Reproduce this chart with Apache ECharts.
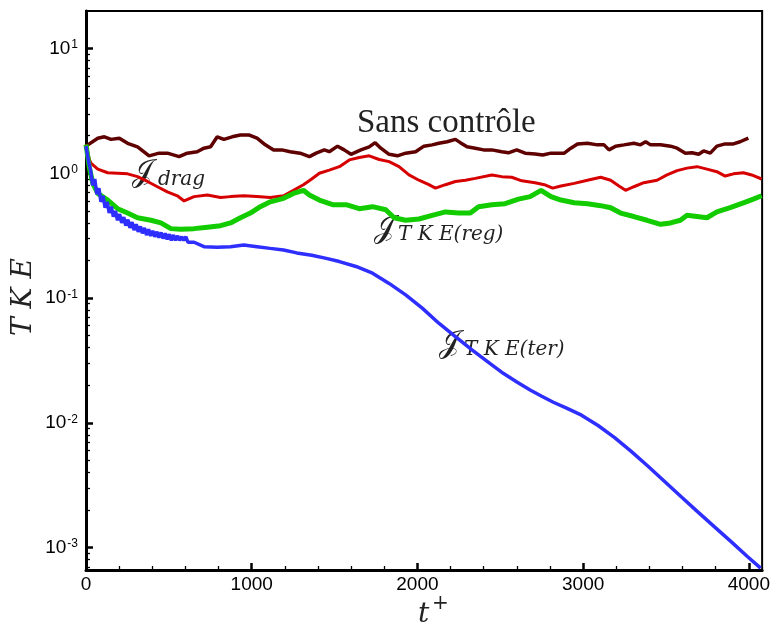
<!DOCTYPE html>
<html><head><meta charset="utf-8">
<script src="https://cdn.jsdelivr.net/npm/echarts@6/dist/echarts.min.js"></script>
<style>html,body{margin:0;padding:0;background:#fff}#c{width:773px;height:627px}</style>
</head><body><div id="c"></div>
<script>
// ---- data ----
const sansT = [0, 10, 71, 111, 151, 201, 251, 311, 381, 441, 491, 562, 611, 671, 712, 752, 792, 832, 882, 932, 982, 1032, 1082, 1132, 1182, 1232, 1292, 1348, 1389, 1438, 1468, 1518, 1558, 1599, 1659, 1709, 1745, 1779, 1829, 1879, 1929, 1989, 2039, 2089, 2129, 2179, 2229, 2259, 2299, 2349, 2399, 2449, 2509, 2549, 2599, 2650, 2710, 2756, 2806, 2886, 2926, 2966, 3026, 3086, 3126, 3156, 3196, 3246, 3306, 3346, 3377, 3407, 3467, 3527, 3567, 3617, 3657, 3697, 3727, 3767, 3807, 3857, 3907, 3947, 3997];
const sansV = [1.65, 1.69, 1.91, 1.96, 1.87, 1.91, 1.74, 1.63, 1.38, 1.45, 1.45, 1.36, 1.45, 1.49, 1.59, 1.63, 1.96, 1.87, 1.96, 2.03, 2.03, 1.91, 1.69, 1.54, 1.54, 1.49, 1.45, 1.36, 1.45, 1.54, 1.49, 1.65, 1.54, 1.42, 1.54, 1.63, 1.76, 1.59, 1.42, 1.38, 1.45, 1.49, 1.65, 1.69, 1.74, 1.79, 1.87, 1.76, 1.63, 1.59, 1.54, 1.54, 1.49, 1.46, 1.54, 1.45, 1.43, 1.40, 1.45, 1.45, 1.59, 1.72, 1.74, 1.69, 1.69, 1.54, 1.65, 1.69, 1.74, 1.69, 1.79, 1.69, 1.69, 1.65, 1.59, 1.45, 1.46, 1.42, 1.51, 1.45, 1.65, 1.72, 1.72, 1.79, 1.91];

const dragT = [0, 21, 31, 71, 131, 191, 251, 311, 371, 431, 491, 551, 592, 652, 732, 812, 872, 952, 1032, 1112, 1192, 1252, 1312, 1362, 1408, 1468, 1529, 1589, 1649, 1709, 1769, 1829, 1889, 1949, 2009, 2069, 2109, 2169, 2229, 2289, 2349, 2449, 2509, 2569, 2630, 2710, 2766, 2816, 2866, 2946, 3026, 3106, 3166, 3216, 3256, 3306, 3366, 3446, 3506, 3567, 3627, 3687, 3747, 3807, 3857, 3907, 3967, 4017, 4077];
const dragV = [1.70, 1.28, 1.20, 1.08, 1.01, 1.00, 0.99, 0.94, 0.86, 0.78, 0.71, 0.66, 0.60, 0.65, 0.67, 0.64, 0.65, 0.66, 0.65, 0.64, 0.66, 0.73, 0.81, 0.90, 1.00, 1.06, 1.13, 1.28, 1.34, 1.38, 1.29, 1.24, 1.13, 0.97, 0.88, 0.81, 0.76, 0.81, 0.86, 0.88, 0.91, 0.97, 0.94, 0.93, 0.87, 0.84, 0.81, 0.76, 0.79, 0.83, 0.88, 0.93, 0.88, 0.79, 0.73, 0.78, 0.84, 0.88, 0.97, 1.05, 1.10, 1.13, 1.08, 1.03, 0.95, 0.99, 1.01, 0.97, 0.90];

const regT = [0, 21, 41, 71, 131, 191, 251, 311, 392, 452, 512, 572, 652, 732, 812, 872, 932, 992, 1052, 1112, 1192, 1252, 1312, 1348, 1408, 1488, 1569, 1649, 1729, 1809, 1859, 1929, 2009, 2089, 2169, 2249, 2319, 2369, 2449, 2529, 2610, 2680, 2746, 2806, 2866, 2946, 3026, 3106, 3166, 3226, 3306, 3386, 3467, 3527, 3587, 3627, 3687, 3747, 3807, 3887, 3967, 4027, 4077];
const regV = [1.70, 1.10, 0.83, 0.69, 0.61, 0.52, 0.48, 0.44, 0.42, 0.40, 0.36, 0.356, 0.36, 0.37, 0.38, 0.40, 0.44, 0.48, 0.54, 0.59, 0.63, 0.69, 0.73, 0.67, 0.61, 0.56, 0.56, 0.52, 0.54, 0.51, 0.44, 0.42, 0.43, 0.46, 0.49, 0.48, 0.48, 0.54, 0.56, 0.57, 0.62, 0.65, 0.73, 0.65, 0.61, 0.58, 0.57, 0.55, 0.53, 0.48, 0.45, 0.42, 0.39, 0.40, 0.42, 0.46, 0.45, 0.44, 0.49, 0.53, 0.58, 0.62, 0.66];

const terT = [0, 15, 28, 40, 53, 65, 78, 90, 103, 115, 128, 140, 153, 165, 178, 190, 203, 215, 228, 240, 253, 265, 278, 290, 303, 315, 328, 340, 353, 365, 378, 390, 403, 415, 428, 440, 453, 465, 478, 490, 503, 515, 528, 540, 553, 565, 578, 590, 603, 615, 652, 712, 792, 872, 952, 1032, 1112, 1192, 1272, 1362, 1450, 1529, 1629, 1729, 1829, 1929, 2029, 2129, 2229, 2329, 2449, 2520, 2600, 2680, 2750, 2820, 2900, 2990, 3090, 3190, 3290, 3390, 3490, 3590, 3690, 3791, 3891, 3991, 4071];
const terV = [1.65, 1.25, 1.05, 0.80, 0.90, 0.68, 0.76, 0.59, 0.66, 0.53, 0.59, 0.48, 0.54, 0.45, 0.50, 0.42, 0.47, 0.40, 0.445, 0.38, 0.425, 0.365, 0.405, 0.35, 0.39, 0.34, 0.375, 0.33, 0.365, 0.32, 0.355, 0.315, 0.345, 0.31, 0.34, 0.305, 0.335, 0.30, 0.33, 0.295, 0.325, 0.29, 0.32, 0.29, 0.315, 0.29, 0.31, 0.29, 0.31, 0.28, 0.28, 0.258, 0.255, 0.258, 0.266, 0.258, 0.25, 0.243, 0.23, 0.22, 0.208, 0.196, 0.179, 0.158, 0.131, 0.106, 0.083, 0.0628, 0.049, 0.0384, 0.0291, 0.0248, 0.0212, 0.0183, 0.0163, 0.0146, 0.0131, 0.0115, 0.0095, 0.0076, 0.0059, 0.0045, 0.0034, 0.00256, 0.00194, 0.00147, 0.00112, 0.000847, 0.000684];

const xMinorTicks = [200, 400, 600, 800, 1200, 1400, 1600, 1800, 2200, 2400, 2600, 2800, 3200, 3400, 3600, 3800];
const yMinorTicks = [0.0007, 0.0008, 0.0009, 0.002, 0.003, 0.004, 0.005, 0.006, 0.007, 0.008, 0.009, 0.02, 0.03, 0.04, 0.05, 0.06, 0.07, 0.08, 0.09, 0.2, 0.3, 0.4, 0.5, 0.6, 0.7, 0.8, 0.9, 2, 3, 4, 5, 6, 7, 8, 9];

const seriesNames = ['Sans contrôle', 'J_drag', 'J_TKE(reg)', 'J_TKE(ter)'];
const colors = ['#5e0000', '#d60000', '#12cc00', '#2e2eff'];

function pairs(t, v) { return t.map((x, i) => [x, v[i]]); }

const serif = "'DejaVu Serif', 'Liberation Serif', serif";
const sans = "'Liberation Sans', Arial, sans-serif";

const chart = echarts.init(document.getElementById('c'), null, {renderer: 'canvas'});
const expFmt = function (v) {
  const e = Math.round(Math.log10(v));
  return '{b|10}{e|' + e + '}';
};
const option = {
  animation: false,
  grid: {left: 86, right: 8, top: 11, bottom: 57, show: true, borderColor: '#000', borderWidth: 2},
  xAxis: [
    {type: 'value', min: 0, max: 4080, interval: 1000, position: 'bottom',
     axisLine: {show: true, onZero: false, lineStyle: {color: '#000', width: 3}},
     axisTick: {show: true, inside: true, length: 7, lineStyle: {color: '#000', width: 2.5}},
     axisLabel: {fontFamily: sans, fontSize: 19, color: '#000', margin: 5, showMaxLabel: false,
       formatter: function (v) { return String(v); }},
     splitLine: {show: false}},
    {type: 'value', min: 0, max: 4080, position: 'bottom',
     axisLine: {show: false}, axisLabel: {show: false}, splitLine: {show: false},
     axisTick: {show: true, inside: true, length: 4, customValues: xMinorTicks, lineStyle: {color: '#000', width: 1.3}}}
  ],
  yAxis: [
    {type: 'log', logBase: 10, min: 0.00066, max: 20, position: 'left',
     axisLine: {show: true, onZero: false, lineStyle: {color: '#000', width: 3}},
     axisTick: {show: true, inside: true, length: 7, lineStyle: {color: '#000', width: 2.5}},
     axisLabel: {formatter: expFmt, margin: 8, showMinLabel: false, showMaxLabel: false,
       rich: {b: {fontFamily: sans, fontSize: 19, color: '#000'},
              e: {fontFamily: sans, fontSize: 12, color: '#000', verticalAlign: 'top', padding: [0, 0, 0, 1]}}},
     splitLine: {show: false}},
    {type: 'log', logBase: 10, min: 0.00066, max: 20, position: 'left',
     axisLine: {show: false}, axisLabel: {show: false}, splitLine: {show: false},
     axisTick: {show: true, inside: true, length: 4, customValues: yMinorTicks, lineStyle: {color: '#000', width: 1.3}}}
  ],
  series: [
    {name: seriesNames[0], type: 'line', data: pairs(sansT, sansV), showSymbol: false, lineStyle: {color: colors[0], width: 3.5}, z: 2},
    {name: seriesNames[1], type: 'line', data: pairs(dragT, dragV), showSymbol: false, lineStyle: {color: colors[1], width: 3}, z: 3},
    {name: seriesNames[2], type: 'line', data: pairs(regT, regV), showSymbol: false, lineStyle: {color: colors[2], width: 5}, z: 4},
    {name: seriesNames[3], type: 'line', data: pairs(terT, terV), showSymbol: false, lineStyle: {color: colors[3], width: 3.5}, z: 5}
  ],
  graphic: [
    {type: 'text', left: 357, top: 107, style: {text: 'Sans contrôle', fontFamily: "'Liberation Serif', serif", fontSize: 33, fill: '#222'}},
    // J_drag
    {type: 'text', x: 132, y: 158, style: {text: '𝒥', fontFamily: serif, fontSize: 30, fill: '#222'}},
    {type: 'text', x: 158, y: 170, style: {text: 'drag', fontFamily: serif, fontStyle: 'italic', fontSize: 20, fill: '#222'}},
    // J_TKE(reg)
    {type: 'text', x: 374, y: 214, style: {text: '𝒥', fontFamily: serif, fontSize: 30, fill: '#222'}},
    {type: 'text', x: 398, y: 225, style: {text: 'T K E(reg)', fontFamily: serif, fontStyle: 'italic', fontSize: 20, fill: '#222'}},
    // J_TKE(ter)
    {type: 'text', x: 439, y: 329, style: {text: '𝒥', fontFamily: serif, fontSize: 30, fill: '#222'}},
    {type: 'text', x: 464, y: 340, style: {text: 'T K E(ter)', fontFamily: serif, fontStyle: 'italic', fontSize: 20, fill: '#222'}},
    // axis titles
    {type: 'text', x: 10, y: 336, rotation: Math.PI / 2, style: {text: 'T K E', fontFamily: serif, fontStyle: 'italic', fontSize: 28, fill: '#222'}},
    {type: 'text', x: 418, y: 601, style: {text: 't', fontFamily: serif, fontStyle: 'italic', fontSize: 28, fill: '#222'}},
    {type: 'text', x: 432, y: 594, style: {text: '+', fontFamily: serif, fontSize: 20, fill: '#222'}}
  ]
};
chart.setOption(option);
</script>
</body></html>
